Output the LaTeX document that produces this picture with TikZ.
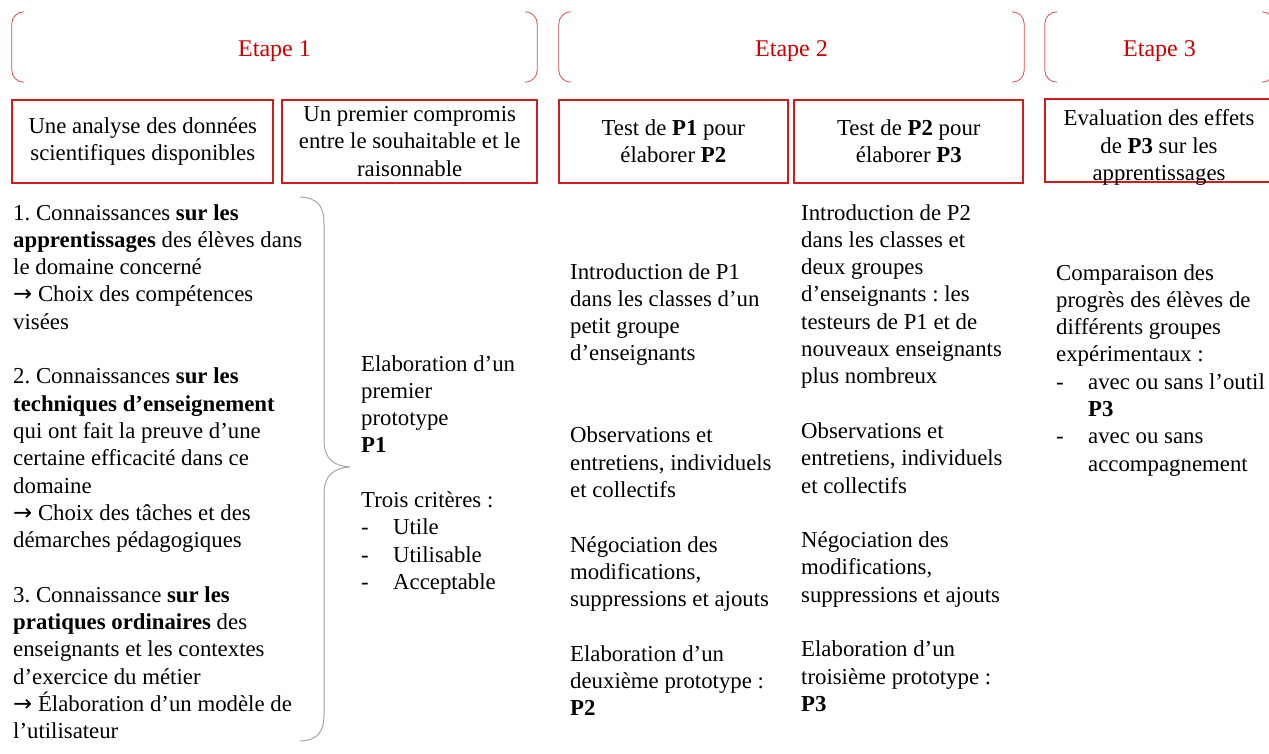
\documentclass[tikz,border=0pt]{standalone}
\usepackage{fontspec}
\setmainfont{Liberation Serif}
\newfontfamily\symb{DejaVu Sans}
\usepackage{tikz}

\definecolor{etapered}{RGB}{204,0,0}
\definecolor{cadrered}{RGB}{208,28,28}
\definecolor{crochetred}{RGB}{214,80,80}
\definecolor{accgris}{RGB}{165,165,165}

\newcommand{\txt}{\fontsize{22.8}{27.3}\selectfont\frenchspacing}
\newcommand{\tiret}{\makebox[32pt][l]{-}}
\newcommand{\fleche}{{\symb →}}
\newcommand{\vide}{\\[\baselineskip]}
\newcommand{\bloc}[2]{\parbox[t]{#1}{\txt\raggedright #2}}

\tikzset{
  etape/.style={text=etapered, font=\fontsize{24}{28}\selectfont, minimum height=70pt, inner sep=0pt,
                text height=18pt, text depth=0pt},
  crochet/.style={draw=crochetred, line width=0.8pt, rounded corners=12pt},
  cadre/.style={draw=cadrered, line width=1.8pt, minimum height=83pt, inner sep=0pt, align=center, font=\txt},
  colonne/.style={anchor=base west, inner sep=0pt},
  accolade/.style={draw=accgris, line width=1pt},
}

\begin{document}
\begin{tikzpicture}[x=1pt, y=-1pt]
\useasboundingbox (0,0) rectangle (1269,753);
\clip (0,0) rectangle (1269,753);

% Etapes
\node[etape, minimum width=525pt] (etape1) at (274.5,47) {Etape 1};
\node[etape, minimum width=465pt] (etape2) at (791.5,47) {Etape 2};
\node[etape, minimum width=229pt] (etape3) at (1159.5,47) {Etape 3};
\foreach \e in {etape1,etape2,etape3} {
    \draw[crochet] ([xshift=12pt]\e.north west) -- (\e.north west) -- (\e.south west) -- ([xshift=12pt]\e.south west);
    \draw[crochet] ([xshift=-12pt]\e.north east) -- (\e.north east) -- (\e.south east) -- ([xshift=-12pt]\e.south east);
}

% Cadres
\node[cadre, minimum width=261pt] (analyse) at (142.8,141.5) {Une analyse des données\\scientifiques disponibles};
\node[cadre, minimum width=254.7pt] (compromis) at (409.7,141.5) {Un premier compromis\\entre le souhaitable et le\\raisonnable};
\node[cadre, minimum width=228.7pt] (testA) at (673.3,141.5) {Test de \textbf{P1} pour\\élaborer \textbf{P2}};
\node[cadre, minimum width=229pt] (testB) at (908.8,141.5) {Test de \textbf{P2} pour\\élaborer \textbf{P3}};
\node[cadre, minimum width=228pt] (evaluation) at (1159,140.5) {};
\node[align=center, font=\txt, inner sep=0pt] (evaluationtxt) at (1159,147.5) {Evaluation des effets\\de \textbf{P3} sur les\\apprentissages};

% Etape 1 : donnees
\node[colonne] (connaissances) at (13,220) {\bloc{330pt}{%
1. Connaissances \textbf{sur les}\\
\textbf{apprentissages} des élèves dans\\
le domaine concerné\\
\fleche{} Choix des compétences\\
visées\vide
2. Connaissances \textbf{sur les}\\
\textbf{techniques d’enseignement}\\
qui ont fait la preuve d’une\\
certaine efficacité dans ce\\
domaine\\
\fleche{} Choix des tâches et des\\
démarches pédagogiques\vide
3. Connaissance \textbf{sur les}\\
\textbf{pratiques ordinaires} des\\
enseignants et les contextes\\
d’exercice du métier\\
\fleche{} Élaboration d’un modèle de\\
l’utilisateur}};

% accolade
\coordinate (accHaut) at (300,197);
\coordinate (accPointe) at (350,467);
\coordinate (accBas) at (300,741);
\draw[accolade] (accHaut) .. controls (318,198) and (324,206) .. (324,224) -- (324,440)
    .. controls (324,458) and (333,466) .. (accPointe)
    .. controls (333,468) and (324,476) .. (324,494) -- (324,714)
    .. controls (324,732) and (318,740) .. (accBas);

% Etape 1 : prototype
\node[colonne] (prototype) at (361,371) {\bloc{200pt}{%
Elaboration d’un\\
premier\\
prototype\\
\textbf{P1}\vide
Trois critères :\\
\tiret Utile\\
\tiret Utilisable\\
\tiret Acceptable}};

% Etape 2
\node[colonne] (introA) at (570,279) {\bloc{230pt}{%
Introduction de P1\\
dans les classes d’un\\
petit groupe\\
d’enseignants\\[2\baselineskip]
Observations et\\
entretiens, individuels\\
et collectifs\vide
Négociation des\\
modifications,\\
suppressions et ajouts\vide
Elaboration d’un\\
deuxième prototype :\\
\textbf{P2}}};

\node[colonne] (introB) at (801,220) {\bloc{230pt}{%
Introduction de P2\\
dans les classes et\\
deux groupes\\
d’enseignants : les\\
testeurs de P1 et de\\
nouveaux enseignants\\
plus nombreux\vide
Observations et\\
entretiens, individuels\\
et collectifs\vide
Négociation des\\
modifications,\\
suppressions et ajouts\vide
Elaboration d’un\\
troisième prototype :\\
\textbf{P3}}};

% Etape 3
\node[colonne] (comparaison) at (1056,280) {\bloc{230pt}{%
Comparaison des\\
progrès des élèves de\\
différents groupes\\
expérimentaux :\\
\tiret avec ou sans l’outil\\
\hspace*{32pt}\textbf{P3}\\
\tiret avec ou sans\\
\hspace*{32pt}accompagnement}};
\end{tikzpicture}
\end{document}
